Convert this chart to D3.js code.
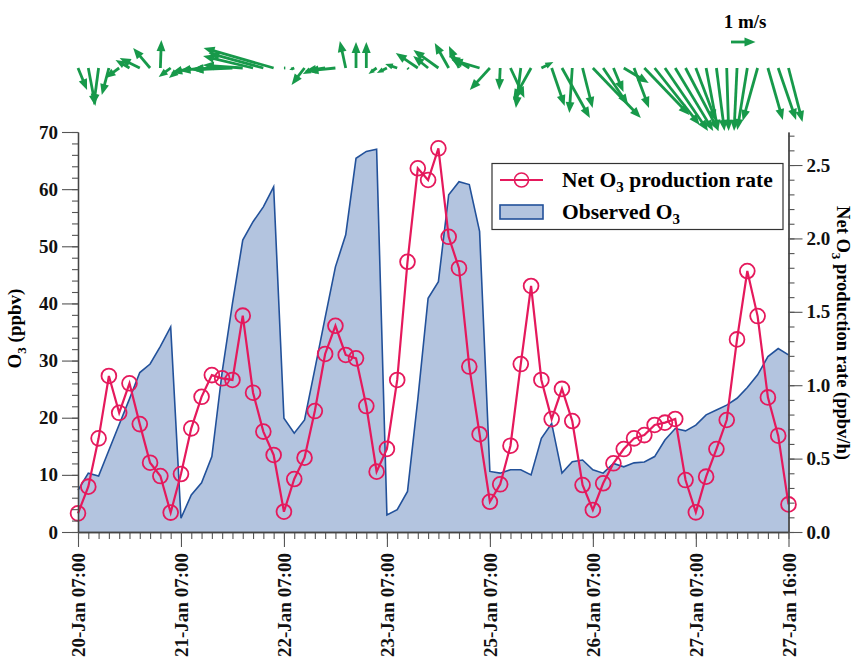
<!DOCTYPE html>
<html>
<head>
<meta charset="utf-8">
<script src="https://cdn.jsdelivr.net/npm/d3@7"></script>
<style>
  body { margin: 0; background: #fff; }
  svg { display: block; font-family: "Liberation Serif", "Times New Roman", serif; font-weight: bold; }
</style>
</head>
<body>
<div id="chart"></div>
<script>
// hourly daytime samples, 07:00-16:00, on each observed day
const days = ["20-Jan", "21-Jan", "22-Jan", "23-Jan", "25-Jan", "26-Jan", "27-Jan"];
const hours = [7, 8, 9, 10, 11, 12, 13, 14, 15, 16];
const labelIdx = [0, 10, 20, 30, 40, 50, 60, 69];

// observed O3 (ppbv)
const o3 = [
    7.3, 10.3, 9.8, 14.3, 18.8, 23.3, 27.9, 29.4, 32.5, 35.9,
    2.4, 6.5, 8.6, 13.2, 28.0, 40.0, 51.1, 54.3, 56.9, 60.4,
    19.9, 17.3, 19.6, 28.5, 37.5, 46.4, 52.0, 65.4, 66.6, 67.0,
    3.0, 3.9, 7.1, 23.2, 40.9, 43.8, 59.0, 61.3, 60.8, 52.6,
    10.6, 10.3, 10.9, 10.9, 10.0, 16.4, 19.0, 10.3, 12.3, 12.6,
    10.9, 10.3, 12.0, 11.4, 12.1, 12.25, 13.2, 16.1, 18.1, 17.7,
    18.7, 20.5, 21.35, 22.2, 23.4, 25.3, 27.5, 30.7, 32.1, 31.0
];

// net O3 production rate (ppbv/h)
const rate = [
    0.127, 0.309, 0.638, 1.063, 0.812, 1.013, 0.735, 0.472, 0.381, 0.132,
    0.395, 0.706, 0.921, 1.069, 1.047, 1.036, 1.474, 0.949, 0.684, 0.525,
    0.138, 0.361, 0.506, 0.824, 1.213, 1.405, 1.206, 1.183, 0.858, 0.411,
    0.566, 1.036, 1.841, 2.478, 2.398, 2.614, 2.011, 1.797, 1.127, 0.666,
    0.206, 0.325, 0.588, 1.144, 1.676, 1.036, 0.769, 0.975, 0.756, 0.320,
    0.150, 0.332, 0.468, 0.565, 0.638, 0.660, 0.729, 0.745, 0.770, 0.354,
    0.134, 0.377, 0.565, 0.763, 1.312, 1.778, 1.471, 0.917, 0.656, 0.188
];

// wind components (m/s), u eastward, v northward
const windU = [
    0.37, 0.29, -0.20, -0.29, -0.57, -0.57, -0.82, -0.69, 0.04, -0.49,
    -0.49, -0.82, -0.90, -0.82, -1.22, -1.63, -1.63, -2.04, -2.24, -2.86,
    0.04, -0.20, -0.53, -0.49, -0.82, -1.14, -0.24, 0.00, 0.00, -0.33,
    -0.41, -0.49, 0.04, -0.90, -0.61, -1.02, -0.57, -0.41, -0.82, -1.14,
    -0.82, -0.04, 0.57, -0.20, -0.73, 0.49, 0.53, 1.14, -0.12, 0.41,
    1.96, 1.02, 0.41, 1.02, 0.61, 1.84, 1.84, 1.76, 1.55, 1.35,
    0.82, 0.49, 0.33, 0.08, -0.12, -0.41, -0.61, 0.61, 0.73, 0.57
];
const windV = [
    -0.90, -1.55, -1.51, -1.10, -0.41, 0.33, 0.41, 0.82, 1.14, -0.37,
    -0.41, -0.20, -0.12, -0.08, -0.04, -0.08, 0.12, 0.49, 0.61, 0.82,
    0.00, -0.08, -0.69, -0.24, -0.12, -0.12, 1.10, 1.06, 1.06, -0.24,
    -0.20, 0.16, -0.04, 0.61, 0.49, 0.73, 1.02, 0.90, 0.49, 0.33,
    -0.90, -0.90, -1.22, -1.63, -1.31, 0.24, -1.55, -2.04, -1.84, -1.63,
    -2.04, -1.51, -0.98, -0.61, -1.63, -1.92, -2.33, -2.57, -2.57, -2.57,
    -2.16, -2.57, -2.57, -2.57, -2.57, -2.53, -2.16, -2.12, -2.12, -2.20
];

const times = days.flatMap(d => hours.map(h => `${d} ${String(h).padStart(2, "0")}:00`));

const width = 856, height = 659;
const plot = { left: 78, right: 788.5, top: 132, bottom: 532 };
const pink = "#e5195c", green = "#17994a";

const svg = d3.select("#chart").append("svg")
    .attr("width", width)
    .attr("height", height);

const x = d3.scaleLinear().domain([0, times.length - 1]).range([plot.left, plot.right]);
const yL = d3.scaleLinear().domain([0, 70]).range([plot.bottom, plot.top]);
const yR = d3.scaleLinear().domain([0, 2.725]).range([plot.bottom, plot.top]);
const ws = d3.scaleLinear().domain([0, 1]).range([0, 24.5]);

// observed O3 area
const area = d3.area()
    .x((d, i) => x(i))
    .y0(yL(0))
    .y1(d => yL(d));
svg.append("path")
    .datum(o3)
    .attr("d", area)
    .attr("fill", "#b3c4df");
svg.append("path")
    .datum(o3)
    .attr("d", d3.line().x((d, i) => x(i)).y(d => yL(d)))
    .attr("fill", "none")
    .attr("stroke", "#22519a")
    .attr("stroke-width", 1.6);

// net production rate
svg.append("path")
    .datum(rate)
    .attr("d", d3.line().x((d, i) => x(i)).y(d => yR(d)))
    .attr("fill", "none")
    .attr("stroke", pink)
    .attr("stroke-width", 2.2);
svg.append("g").selectAll("circle")
    .data(rate)
    .join("circle")
    .attr("cx", (d, i) => x(i))
    .attr("cy", d => yR(d))
    .attr("r", 7.4)
    .attr("fill", "none")
    .attr("stroke", pink)
    .attr("stroke-width", 1.8);

// axes
const styleAxis = g => {
    g.select(".domain").attr("stroke", "#444").attr("stroke-width", 1.3);
    g.selectAll(".tick line").attr("stroke", "#555").attr("stroke-width", 1.1);
    g.selectAll("text").attr("fill", "#111")
        .style("font-family", "'Liberation Serif', 'Times New Roman', serif")
        .style("font-weight", "bold").style("font-size", "19px");
};

svg.append("g")
    .attr("transform", `translate(${plot.left},0)`)
    .call(d3.axisLeft(yL).tickValues(d3.range(0, 71, 2)).tickSize(6).tickFormat("").tickSizeOuter(0))
    .call(styleAxis);
svg.append("g")
    .attr("transform", `translate(${plot.left},0)`)
    .call(d3.axisLeft(yL).tickValues(d3.range(0, 71, 10)).tickSize(16).tickPadding(4).tickSizeOuter(0))
    .call(styleAxis);

svg.append("g")
    .attr("transform", `translate(${plot.right},0)`)
    .call(d3.axisRight(yR).tickValues(d3.range(0, 28).map(d => d / 10)).tickSize(6).tickFormat("").tickSizeOuter(0))
    .call(styleAxis);
svg.append("g")
    .attr("transform", `translate(${plot.right},0)`)
    .call(d3.axisRight(yR).tickValues([0, 0.5, 1, 1.5, 2, 2.5]).tickSize(14).tickPadding(4)
        .tickFormat(d3.format(".1f")).tickSizeOuter(0))
    .call(styleAxis);

svg.append("g")
    .attr("transform", `translate(0,${plot.bottom})`)
    .call(d3.axisBottom(x).tickValues(d3.range(times.length)).tickSize(7).tickFormat("").tickSizeOuter(0))
    .call(styleAxis);
const xMajor = svg.append("g")
    .attr("transform", `translate(0,${plot.bottom})`)
    .call(d3.axisBottom(x).tickValues(labelIdx).tickSize(15).tickFormat(i => times[i]).tickSizeOuter(0))
    .call(styleAxis);
xMajor.selectAll("text")
    .attr("transform", "rotate(-90)")
    .attr("x", -21)
    .attr("y", 0)
    .attr("dy", "0.35em")
    .attr("text-anchor", "end");

// axis titles
const leftTitle = svg.append("text")
    .attr("transform", `translate(21,${(287 + 370) / 2}) rotate(-90)`)
    .attr("text-anchor", "middle")
    .style("font-size", "19px");
leftTitle.append("tspan").text("O");
leftTitle.append("tspan").text("3").style("font-size", "13px").attr("dy", 5);
leftTitle.append("tspan").text(" (ppbv)").attr("dy", -5);

const rightTitle = svg.append("text")
    .attr("transform", `translate(837,333) rotate(90)`)
    .attr("text-anchor", "middle")
    .style("font-size", "18.5px");
rightTitle.append("tspan").text("Net O");
rightTitle.append("tspan").text("3").style("font-size", "13px").attr("dy", 5);
rightTitle.append("tspan").text(" production rate (ppbv/h)").attr("dy", -5);

// legend
const legend = svg.append("g");
legend.append("rect")
    .attr("x", 492).attr("y", 163.5).attr("width", 291).attr("height", 66)
    .attr("fill", "#fff").attr("stroke", "#333").attr("stroke-width", 1.2);
legend.append("line")
    .attr("x1", 500).attr("x2", 543).attr("y1", 180).attr("y2", 180)
    .attr("stroke", pink).attr("stroke-width", 2);
legend.append("circle")
    .attr("cx", 521.5).attr("cy", 180).attr("r", 7)
    .attr("fill", "none").attr("stroke", pink).attr("stroke-width", 1.6);
legend.append("rect")
    .attr("x", 500).attr("y", 205).attr("width", 43).attr("height", 14)
    .attr("fill", "#b3c4df").attr("stroke", "#22519a").attr("stroke-width", 1.6);
const l1 = legend.append("text").attr("x", 562).attr("y", 187).style("font-size", "21.5px");
l1.append("tspan").text("Net O");
l1.append("tspan").text("3").style("font-size", "15px").attr("dy", 5);
l1.append("tspan").text(" production rate").attr("dy", -5);
const l2 = legend.append("text").attr("x", 562).attr("y", 219).style("font-size", "21.5px");
l2.append("tspan").text("Observed O");
l2.append("tspan").text("3").style("font-size", "15px").attr("dy", 5);

// wind vectors, tail anchored on a baseline above the plot
const windY = 68;
const arrow = (g, x0, y0, dx, dy) => {
    const len = Math.hypot(dx, dy);
    if (len < 0.01) return;
    const ux = dx / len, uy = dy / len;
    const h = Math.min(11, len * 0.6), w = h * 0.4;
    const bx = x0 + dx - ux * h, by = y0 + dy - uy * h;
    g.append("line")
        .attr("x1", x0).attr("y1", y0).attr("x2", bx + ux * 1).attr("y2", by + uy * 1)
        .attr("stroke", green).attr("stroke-width", 2.8);
    g.append("path")
        .attr("d", `M${x0 + dx},${y0 + dy}L${bx - uy * w},${by + ux * w}L${bx + uy * w},${by - ux * w}Z`)
        .attr("fill", green);
};
const wind = svg.append("g");
windU.forEach((u, i) => arrow(wind, x(i), windY, ws(u), -ws(windV[i])));

// reference vector
arrow(svg.append("g"), 731, 42, ws(1), 0);
svg.append("text")
    .attr("x", 745).attr("y", 28)
    .attr("text-anchor", "middle")
    .style("font-size", "19px")
    .text("1 m/s");
</script>
</body>
</html>
